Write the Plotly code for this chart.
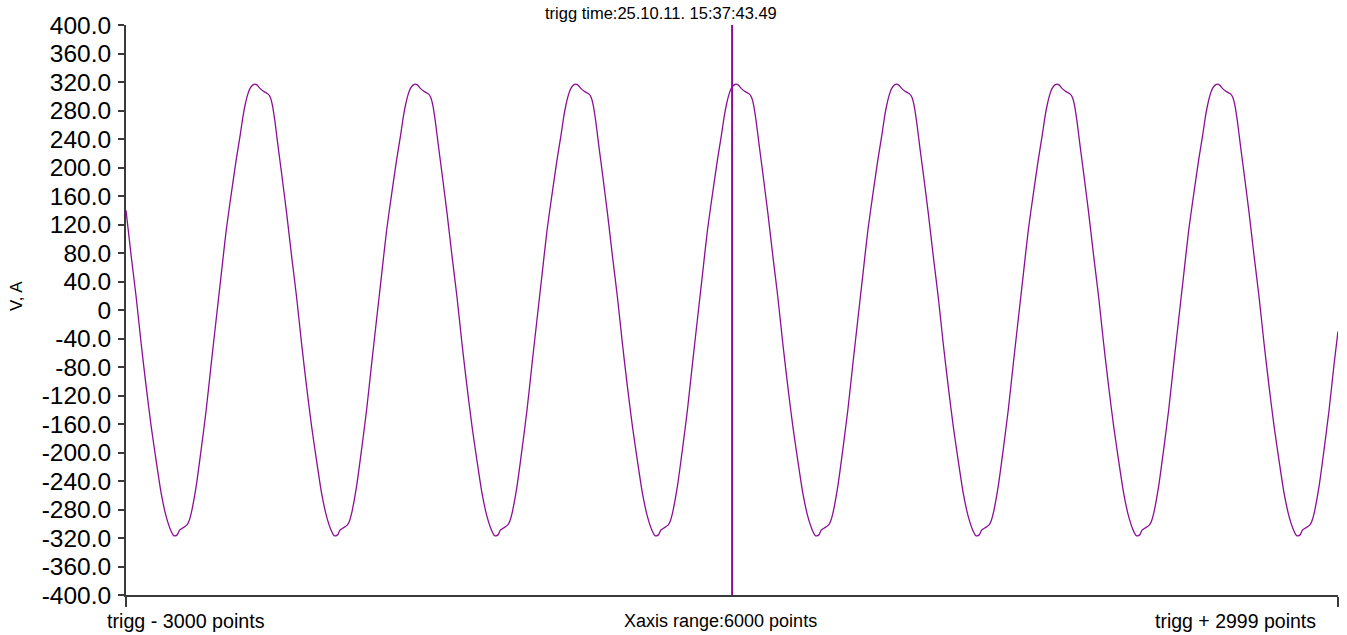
import plotly.graph_objects as go

# Sample index relative to the trigger point, and measured voltage (V)
sample_idx = [
    -3000, -2974, -2950, -2925, -2900, -2875, -2851, -2826, -2801, -2776, -2766, -2757,
    -2745, -2735, -2720, -2699, -2688, -2677, -2653, -2628, -2603, -2578, -2554, -2529,
    -2504, -2479, -2455, -2435, -2422, -2411, -2397, -2386, -2372,
    -2362, -2352, -2337, -2320, -2296, -2285, -2275, -2263, -2247, -2230, -2205, -2180,
    -2156, -2131, -2106, -2081, -2057, -2032, -2007, -1982, -1972, -1963, -1951, -1941,
    -1926, -1905, -1894, -1883, -1859, -1834, -1809, -1784, -1760, -1735, -1710, -1685,
    -1661, -1641, -1628, -1617, -1603, -1592, -1578,
    -1568, -1558, -1543, -1526, -1502, -1491, -1481, -1469, -1453, -1436, -1411, -1386,
    -1362, -1337, -1312, -1287, -1263, -1238, -1213, -1188, -1178, -1169, -1157, -1147,
    -1132, -1111, -1100, -1089, -1065, -1040, -1015, -990, -966, -941, -916, -891,
    -867, -847, -834, -823, -809, -798, -784,
    -774, -764, -749, -732, -708, -697, -687, -675, -659, -642, -617, -592,
    -568, -543, -518, -493, -469, -444, -419, -394, -384, -375, -363, -353,
    -338, -317, -306, -295, -271, -246, -221, -196, -172, -147, -122, -97,
    -73, -53, -40, -29, -15, -4, 10,
    20, 30, 45, 62, 86, 97, 107, 119, 135, 152, 177, 202,
    226, 251, 276, 301, 325, 350, 375, 400, 410, 419, 431, 441,
    456, 477, 488, 499, 523, 548, 573, 598, 622, 647, 672, 697,
    721, 741, 754, 765, 779, 790, 804,
    814, 824, 839, 856, 880, 891, 901, 913, 929, 946, 971, 996,
    1020, 1045, 1070, 1095, 1119, 1144, 1169, 1194, 1204, 1213, 1225, 1235,
    1250, 1271, 1282, 1293, 1317, 1342, 1367, 1392, 1416, 1441, 1466, 1491,
    1515, 1535, 1548, 1559, 1573, 1584, 1598,
    1608, 1618, 1633, 1650, 1674, 1685, 1695, 1707, 1723, 1740, 1765, 1790,
    1814, 1839, 1864, 1889, 1913, 1938, 1963, 1988, 1998, 2007, 2019, 2029,
    2044, 2065, 2076, 2087, 2111, 2136, 2161, 2186, 2210, 2235, 2260, 2285,
    2309, 2329, 2342, 2353, 2367, 2378, 2392,
    2402, 2412, 2427, 2444, 2468, 2479, 2489, 2501, 2517, 2534, 2559, 2584,
    2608, 2633, 2658, 2683, 2707, 2732, 2757, 2782, 2792, 2801, 2813, 2823,
    2838, 2859, 2870, 2881, 2905, 2930, 2955, 2980, 2999,
]

volts = [
    140, 75, 19, -47, -108, -164, -211, -257, -290, -311, -316, -317,
    -315, -309, -306, -302, -296, -285, -248, -196, -140, -75, -14, 49,
    112, 163, 210, 245, 270, 287, 303, 311, 316,
    317, 316, 311, 307, 303, 298, 287, 265, 229, 192, 136, 75,
    19, -47, -108, -164, -211, -257, -290, -311, -316, -317, -315, -309,
    -306, -302, -296, -285, -248, -196, -140, -75, -14, 49, 112, 163,
    210, 245, 270, 287, 303, 311, 316,
    317, 316, 311, 307, 303, 298, 287, 265, 229, 192, 136, 75,
    19, -47, -108, -164, -211, -257, -290, -311, -316, -317, -315, -309,
    -306, -302, -296, -285, -248, -196, -140, -75, -14, 49, 112, 163,
    210, 245, 270, 287, 303, 311, 316,
    317, 316, 311, 307, 303, 298, 287, 265, 229, 192, 136, 75,
    19, -47, -108, -164, -211, -257, -290, -311, -316, -317, -315, -309,
    -306, -302, -296, -285, -248, -196, -140, -75, -14, 49, 112, 163,
    210, 245, 270, 287, 303, 311, 316,
    317, 316, 311, 307, 303, 298, 287, 265, 229, 192, 136, 75,
    19, -47, -108, -164, -211, -257, -290, -311, -316, -317, -315, -309,
    -306, -302, -296, -285, -248, -196, -140, -75, -14, 49, 112, 163,
    210, 245, 270, 287, 303, 311, 316,
    317, 316, 311, 307, 303, 298, 287, 265, 229, 192, 136, 75,
    19, -47, -108, -164, -211, -257, -290, -311, -316, -317, -315, -309,
    -306, -302, -296, -285, -248, -196, -140, -75, -14, 49, 112, 163,
    210, 245, 270, 287, 303, 311, 316,
    317, 316, 311, 307, 303, 298, 287, 265, 229, 192, 136, 75,
    19, -47, -108, -164, -211, -257, -290, -311, -316, -317, -315, -309,
    -306, -302, -296, -285, -248, -196, -140, -75, -14, 49, 112, 163,
    210, 245, 270, 287, 303, 311, 316,
    317, 316, 311, 307, 303, 298, 287, 265, 229, 192, 136, 75,
    19, -47, -108, -164, -211, -257, -290, -311, -316, -317, -315, -309,
    -306, -302, -296, -285, -248, -196, -140, -75, -30,
]

trigger_idx = 0
x_range = [-3000, 2999]

y_ticks = list(range(-400, 401, 40))
y_tick_text = ["0" if v == 0 else f"{v:.1f}" for v in y_ticks]

title_text = "trigg time:25.10.11. 15:37:43.49"
left_label = "trigg - 3000 points"
mid_label = "Xaxis range:6000 points"
right_label = "trigg + 2999 points"
y_title = "V, A"

TRACE = "#8B0F95"
AXIS = "#3a3a3a"
FONT = "Liberation Sans, Arial, sans-serif"

fig = go.Figure()
fig.add_trace(go.Scatter(
    x=sample_idx, y=volts, mode="lines",
    line=dict(color=TRACE, width=1.3, shape="spline", smoothing=0.6),
    hoverinfo="skip", showlegend=False,
))

# trigger marker
fig.add_shape(type="line", x0=trigger_idx, x1=trigger_idx, y0=-400, y1=400,
              xref="x", yref="y", line=dict(color=TRACE, width=2))

fig.update_layout(
    width=1347, height=635,
    margin=dict(l=126, r=9, t=25, b=40),
    paper_bgcolor="white", plot_bgcolor="white",
    font=dict(family=FONT, color="black"),
    xaxis=dict(
        range=x_range, showgrid=False, zeroline=False,
        showline=True, linecolor=AXIS, linewidth=2,
        tickmode="array", tickvals=x_range, ticktext=["", ""],
        ticks="outside", ticklen=10, tickwidth=2, tickcolor=AXIS,
        showticklabels=False,
    ),
    yaxis=dict(
        range=[-400, 400], showgrid=False, zeroline=False,
        showline=True, linecolor=AXIS, linewidth=2,
        tickmode="array", tickvals=y_ticks, ticktext=y_tick_text,
        ticks="outside", ticklen=6, tickwidth=2, tickcolor=AXIS,
        tickfont=dict(family=FONT, size=24.5, color="black"),
        ticklabelstandoff=2,
    ),
)

fig.add_annotation(text=title_text, xref="paper", yref="paper", x=0.4414, y=1,
                   xanchor="center", yanchor="middle", yshift=12, showarrow=False,
                   font=dict(family=FONT, size=16.5, color="black"))
fig.add_annotation(text=left_label, xref="paper", yref="paper", x=-0.0173, y=0,
                   xanchor="left", yanchor="middle", yshift=-26, showarrow=False,
                   font=dict(family=FONT, size=19.7, color="black"))
fig.add_annotation(text=mid_label, xref="paper", yref="paper", x=0.4909, y=0,
                   xanchor="center", yanchor="middle", yshift=-26, showarrow=False,
                   font=dict(family=FONT, size=18, color="black"))
fig.add_annotation(text=right_label, xref="paper", yref="paper", x=0.9835, y=0,
                   xanchor="right", yanchor="middle", yshift=-26, showarrow=False,
                   font=dict(family=FONT, size=19.5, color="black"))
fig.add_annotation(text=y_title, xref="paper", yref="paper", x=-0.0908, y=0.5,
                   xanchor="center", yanchor="middle", yshift=14, textangle=-90,
                   showarrow=False, font=dict(family=FONT, size=17, color="black"))

fig.write_html("out.html")
